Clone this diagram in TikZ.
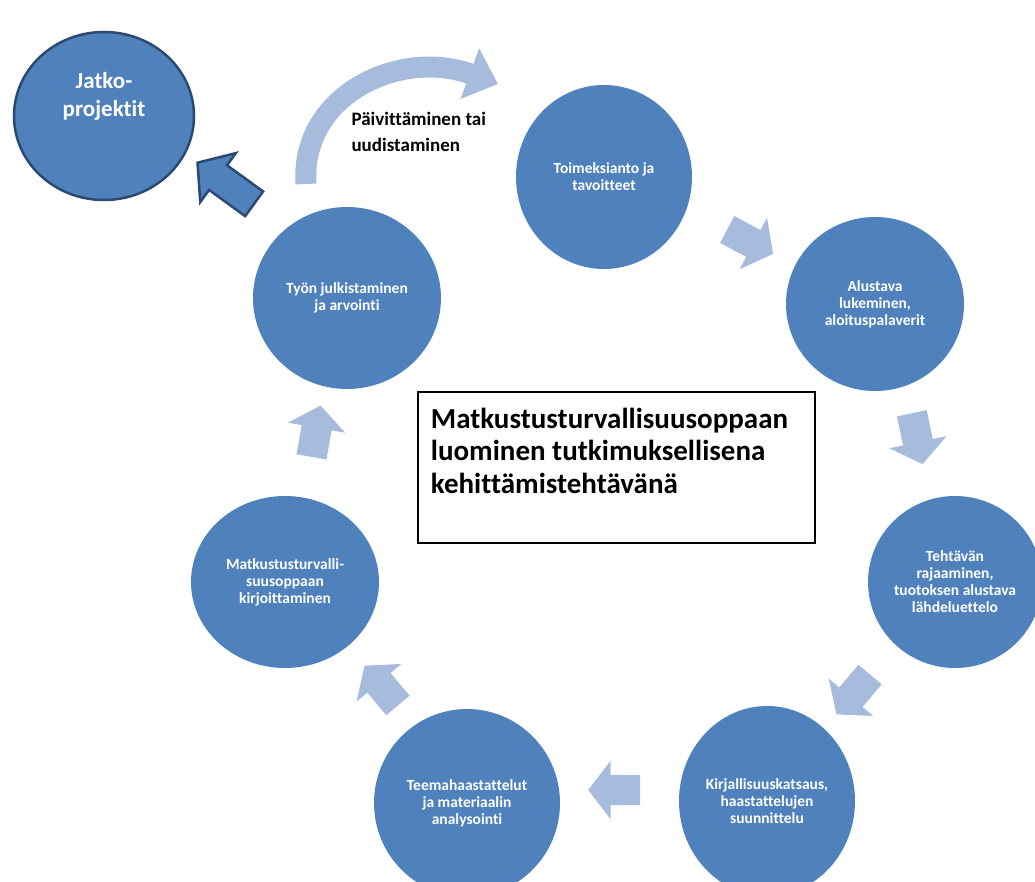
\documentclass[tikz,border=0pt]{standalone}
\usepackage{fontspec}
\setmainfont[Ligatures=NoCommon]{Carlito}
\usetikzlibrary{arrows.meta,shapes.geometric,shapes.arrows}
\definecolor{StepBlue}{HTML}{4F81BD}
\definecolor{FlowBlue}{HTML}{A7BCDD}
\definecolor{DarkNavy}{HTML}{2A4A73}

\begin{document}
\begin{tikzpicture}[
    x=1pt,y=-1pt,
    stepnode/.style={ellipse,fill=StepBlue,inner sep=0pt,text=white,align=center,
      font=\fontsize{15.5}{17}\selectfont\bfseries},
    flowarrow/.style={single arrow,fill=FlowBlue,inner xsep=0pt,inner ysep=15pt,minimum height=52pt,
      single arrow head extend=14pt,single arrow tip angle=105,single arrow head indent=0pt},
    >=Stealth,
  ]
  \useasboundingbox (0,0) rectangle (1035,882);
  % Steps of the cycle, clockwise from the top
  \node[stepnode,minimum width=176pt,minimum height=184pt] (s1) at (604,177) {Toimeksianto ja\\tavoitteet};
  \node[stepnode,minimum width=178pt,minimum height=174pt] (s2) at (875,304) {Alustava\\lukeminen,\\aloituspalaverit};
  \node[stepnode,minimum width=174pt,minimum height=172pt] (s3) at (955,582) {Tehtävän\\rajaaminen,\\tuotoksen alustava\\lähdeluettelo};
  \node[stepnode,minimum width=176pt,minimum height=190pt] (s4) at (767,801) {Kirjallisuuskatsaus,\\haastattelujen\\suunnittelu};
  \node[stepnode,minimum width=186pt,minimum height=188pt] (s5) at (467,803) {Teemahaastattelut\\ja materiaalin\\analysointi};
  \node[stepnode,minimum width=188pt,minimum height=172pt] (s6) at (285,582) {Matkustusturvalli-\\suusoppaan\\kirjoittaminen};
  \node[stepnode,minimum width=188pt,minimum height=182pt] (s7) at (347,298) {Työn julkistaminen\\ja arvointi};
  % Follow-up projects
  \node[ellipse,fill=StepBlue,draw=DarkNavy,line width=2.5pt,minimum width=180pt,minimum height=168pt] (jatko) at (104,116) {};
  \node[text=white,align=center,font=\fontsize{23}{28}\selectfont\bfseries] (jatkotext) at ([yshift=20pt]jatko.center) {Jatko-\\projektit};
  % Arrows between the steps
  \node[flowarrow,rotate=-28] (f1) at (745,239) {};
  \node[flowarrow,rotate=-78] (f2) at (916,433) {};
  \node[flowarrow,rotate=-130] (f3) at (857,690) {};
  \node[flowarrow,rotate=180] (f4) at (620,790) {};
  \node[flowarrow,rotate=130] (f5) at (385,690) {};
  \node[flowarrow,rotate=80] (f6) at (315,437) {};
  \node[single arrow,fill=StepBlue,draw=DarkNavy,line width=2.5pt,inner xsep=0pt,inner ysep=14pt,minimum height=70pt,
    single arrow head extend=15pt,single arrow tip angle=100,single arrow head indent=0pt,rotate=144] (exit) at (231,187) {};
  % Update loop back to the start
  \coordinate (loopstart) at (306,184);
  \coordinate (loopend) at (498,84);
  \draw[FlowBlue,line width=21pt,-{Triangle[length=30pt,width=52pt]}] (loopstart) .. controls (300,95) and (400,48) .. (loopend);
  \node[anchor=north west,align=left,font=\fontsize{19}{26}\selectfont\bfseries] (looptext) at (348,109) {Päivittäminen tai\\uudistaminen};
  % Title box
  \node[draw,line width=1.2pt,minimum width=397pt,minimum height=151pt] (title) at (616.5,467.5) {};
  \node[anchor=north west,align=left,font=\fontsize{29}{32.5}\selectfont\bfseries] (titletext) at ([shift={(10pt,-13pt)}]title.north west) {Matkustusturvallisuusoppaan\\luominen tutkimuksellisena\\kehittämistehtävänä};
\end{tikzpicture}
\end{document}
